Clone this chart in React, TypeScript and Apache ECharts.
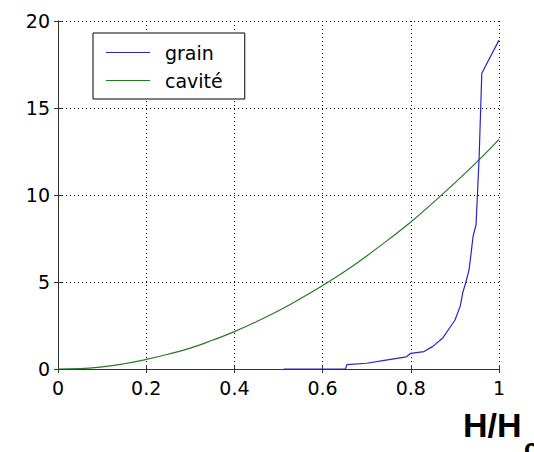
import React, { useEffect, useRef } from "react";
import * as echarts from "echarts";

const xTicks = [0, 0.2, 0.4, 0.6, 0.8, 1];
const yTicks = [0, 5, 10, 15, 20];

const cavityX = [0, 0.05, 0.1, 0.15, 0.2, 0.25, 0.3, 0.35, 0.4, 0.45, 0.5, 0.55, 0.6, 0.65, 0.7, 0.75, 0.8, 0.85, 0.9, 0.95, 1];
const cavityY = [0, 0.02, 0.12, 0.3, 0.55, 0.85, 1.2, 1.65, 2.15, 2.72, 3.35, 4.05, 4.8, 5.6, 6.5, 7.45, 8.45, 9.55, 10.7, 11.9, 13.2];

const grainX = [0.512, 0.652, 0.655, 0.7, 0.74, 0.79, 0.8, 0.83, 0.85, 0.873, 0.889, 0.9, 0.912, 0.918, 0.925, 0.932, 0.937, 0.941, 0.948, 0.955, 0.961, 1.0];
const grainY = [0, 0, 0.25, 0.33, 0.5, 0.7, 0.9, 1.0, 1.3, 1.8, 2.4, 2.8, 3.6, 4.4, 5.0, 5.7, 6.7, 7.6, 8.3, 12.2, 17.0, 18.9];

const FONT = "'DejaVu Sans', 'Liberation Sans', Arial, sans-serif";
const BOLD_FONT = "'Liberation Sans', Arial, sans-serif";

export default function App() {
  const ref = useRef<HTMLDivElement>(null);
  useEffect(() => {
    if (!ref.current) return;
    const chart = echarts.init(ref.current, null, { renderer: "svg" });
    const grid = { left: 58, right: 35, top: 21, bottom: 83, show: false };
    const axisLine = { show: true, lineStyle: { color: "#333", width: 1 } };
    const axisTick = { show: true, inside: true, length: 4, lineStyle: { color: "#333" } };
    const splitLine = { show: true, lineStyle: { color: "#000", width: 1, type: [1, 3] as any } };
    chart.setOption({
      animation: false,
      backgroundColor: "#fff",
      grid,
      legend: {
        left: 93,
        top: 33,
        orient: "vertical",
        backgroundColor: "#fff",
        borderColor: "#000",
        borderWidth: 1,
        padding: [10, 22, 9, 13],
        itemWidth: 44,
        itemHeight: 1,
        itemGap: 9,
        icon: "rect",
        textStyle: { fontFamily: FONT, fontSize: 19, color: "#000", lineHeight: 18, padding: [0, 0, 0, 10] },
        data: ["grain", "cavité"],
      },
      xAxis: [
        {
          type: "value",
          min: 0,
          max: 1,
          interval: 0.2,
          axisLine,
          axisTick,
          axisLabel: {
            fontFamily: FONT,
            fontSize: 19,
            color: "#000",
            margin: 9,
            formatter: (v: number) => {
              const t = xTicks.find((k) => Math.abs(k - v) < 1e-9);
              return t === undefined ? "" : String(t);
            },
          },
          splitLine,
        },
        {
          type: "value",
          position: "top",
          min: 0,
          max: 1,
          interval: 0.2,
          axisLine,
          axisTick,
          axisLabel: { show: false },
          splitLine: { show: false },
        },
      ],
      yAxis: [
        {
          type: "value",
          min: 0,
          max: 20,
          interval: 5,
          axisLine,
          axisTick,
          axisLabel: {
            fontFamily: FONT,
            fontSize: 19,
            color: "#000",
            margin: 8,
            formatter: (v: number) => (yTicks.includes(v) ? String(v) : ""),
          },
          splitLine,
        },
        {
          type: "value",
          position: "right",
          min: 0,
          max: 20,
          interval: 5,
          axisLine,
          axisTick,
          axisLabel: { show: false },
          splitLine: { show: false },
        },
      ],
      series: [
        {
          name: "grain",
          type: "line",
          showSymbol: false,
          symbol: "none",
          lineStyle: { color: "#2626c4", width: 1.2 },
          itemStyle: { color: "#2626c4" },
          data: grainX.map((x, i) => [x, grainY[i]]),
          z: 3,
        },
        {
          name: "cavité",
          type: "line",
          showSymbol: false,
          symbol: "none",
          smooth: true,
          lineStyle: { color: "#237a23", width: 1.2 },
          itemStyle: { color: "#237a23" },
          data: cavityX.map((x, i) => [x, cavityY[i]]),
          z: 2,
        },
      ],
      graphic: [
        {
          type: "text",
          x: 463,
          y: 442,
          style: {
            text: "H/H",
            fontFamily: BOLD_FONT,
            fontSize: 34,
            fontWeight: "bold",
            fill: "#000",
            align: "left",
            verticalAlign: "bottom",
          },
        },
        {
          type: "text",
          x: 524,
          y: 461,
          style: {
            text: "c",
            fontFamily: BOLD_FONT,
            fontSize: 26,
            fontWeight: "bold",
            fill: "#000",
            align: "left",
            verticalAlign: "bottom",
          },
        },
      ],
    });
    return () => chart.dispose();
  }, []);
  return (
    <div
      ref={ref}
      style={{ position: "fixed", left: 0, top: 0, width: 534, height: 452, background: "#fff" }}
    />
  );
}
